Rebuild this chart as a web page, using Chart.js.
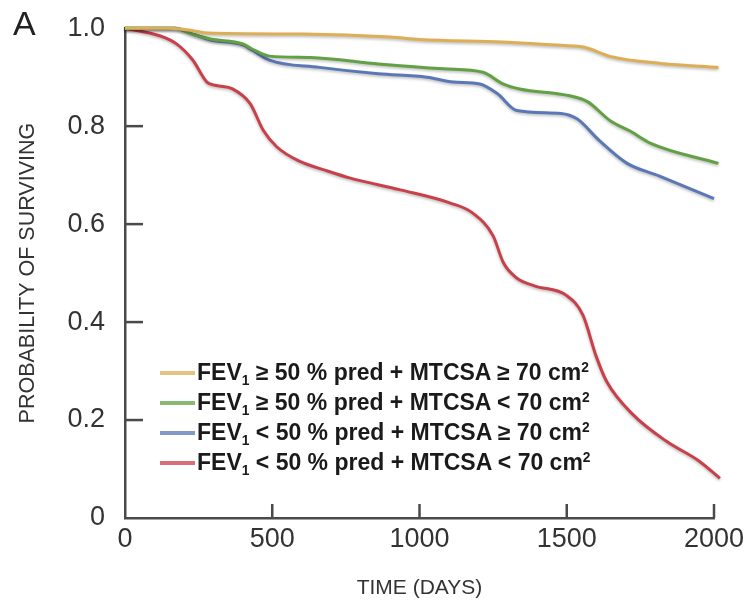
<!DOCTYPE html>
<html>
<head>
<meta charset="utf-8">
<script src="https://cdn.jsdelivr.net/npm/chart.js@4.4.1/dist/chart.umd.min.js"></script>
<style>
  body { margin: 0; background: #fff; }
  #wrap { position: relative; width: 746px; height: 602px; font-family: "Liberation Sans", Arial, sans-serif; }
  #panel { position: absolute; left: 13px; top: 4px; font-size: 34px; color: #222; }
  #legend { position: absolute; left: 160px; top: 358px; }
  .row { height: 30px; display: flex; align-items: center; font-weight: bold; font-size: 23px; color: #1a1a1a; white-space: nowrap; }
  .sw { width: 35px; height: 4px; margin-right: 2px; opacity: 0.75; }
  .row sub { font-size: 60%; vertical-align: -5px; }
  .row sup { font-size: 60%; vertical-align: 8px; }
</style>
</head>
<body>
<div id="wrap">
  <canvas id="chart"></canvas>
  <div id="panel">A</div>
  <div id="legend"></div>
</div>
<script>
// days / probability
const goldDays = [0, 150, 230, 280, 600, 900, 1000, 1280, 1480, 1560, 1650, 1820, 2015];
const goldSurv = [1.0, 1.0, 0.995, 0.99, 0.988, 0.982, 0.977, 0.972, 0.965, 0.961, 0.942, 0.928, 0.92];

const greenDays = [0, 170, 230, 290, 400, 430, 490, 630, 860, 1080, 1215, 1285, 1340, 1510, 1570, 1650, 1715, 1785, 2015];
const greenSurv = [1.0, 1.0, 0.988, 0.978, 0.968, 0.958, 0.943, 0.94, 0.927, 0.917, 0.91, 0.886, 0.876, 0.862, 0.85, 0.81, 0.79, 0.765, 0.724];

const blueDays = [0, 170, 230, 290, 400, 430, 490, 660, 860, 1025, 1115, 1205, 1265, 1330, 1480, 1535, 1610, 1705, 1815, 2000];
const blueSurv = [1.0, 1.0, 0.988, 0.976, 0.966, 0.956, 0.935, 0.92, 0.907, 0.9, 0.89, 0.886, 0.866, 0.832, 0.826, 0.815, 0.771, 0.724, 0.698, 0.652];

const redDays = [0, 120, 175, 230, 278, 310, 365, 425, 470, 515, 590, 690, 765, 935, 1105, 1180, 1250, 1285, 1330, 1390, 1500, 1555, 1600, 1636, 1725, 1840, 1950, 2020];
const redSurv = [1.0, 0.984, 0.968, 0.935, 0.89, 0.883, 0.876, 0.846, 0.791, 0.758, 0.729, 0.708, 0.694, 0.67, 0.643, 0.623, 0.576, 0.521, 0.49, 0.474, 0.454, 0.414, 0.33, 0.278, 0.211, 0.156, 0.116, 0.081];

const seriesLabels = [
  'FEV1 ≥ 50 % pred + MTCSA ≥ 70 cm2',
  'FEV1 ≥ 50 % pred + MTCSA < 70 cm2',
  'FEV1 < 50 % pred + MTCSA ≥ 70 cm2',
  'FEV1 < 50 % pred + MTCSA < 70 cm2'
];
const seriesColors = ['#dcae55', '#62a045', '#5a78b5', '#c8404a'];

const xTickValues = [0, 500, 1000, 1500, 2000];
const xTickLabels = ['0', '500', '1000', '1500', '2000'];
const yTickValues = [0, 0.2, 0.4, 0.6, 0.8, 1.0];
const yTickLabels = ['0', '0.2', '0.4', '0.6', '0.8', '1.0'];

function toPoints(days, surv) {
  return days.map((d, i) => ({ x: d, y: surv[i] }));
}

const allDays = [goldDays, greenDays, blueDays, redDays];
const allSurv = [goldSurv, greenSurv, blueSurv, redSurv];

const datasets = seriesLabels.map((lab, i) => ({
  label: lab,
  data: toPoints(allDays[i], allSurv[i]),
  borderColor: seriesColors[i],
  borderWidth: 3,
  pointRadius: 0,
  cubicInterpolationMode: 'monotone',
  clip: false
}));

const axisColor = '#4a4a4a';

// soft shadow under the curves
const lineShadow = {
  id: 'lineShadow',
  beforeDatasetDraw(chart) {
    const ctx = chart.ctx;
    ctx.save();
    ctx.shadowColor = 'rgba(0,0,0,0.28)';
    ctx.shadowBlur = 3;
    ctx.shadowOffsetY = 1.5;
  },
  afterDatasetDraw(chart) {
    chart.ctx.restore();
  }
};

// tick marks pointing into the plot
const innerTicks = {
  id: 'innerTicks',
  afterDraw(chart) {
    const ctx = chart.ctx;
    const area = chart.chartArea;
    const xs = chart.scales.x;
    const ys = chart.scales.y;
    ctx.save();
    ctx.fillStyle = axisColor;
    for (let i = 1; i < xTickValues.length; i++) {
      const px = xs.getPixelForValue(xTickValues[i]);
      ctx.fillRect(px - 1.25, area.bottom - 14, 2.5, 14);
    }
    for (let i = 1; i < yTickValues.length - 1; i++) {
      const py = ys.getPixelForValue(yTickValues[i]);
      ctx.fillRect(area.left, py - 1.25, 18, 2.5);
    }
    ctx.restore();
  }
};

new Chart(document.getElementById('chart'), {
  type: 'line',
  data: { datasets: datasets },
  plugins: [lineShadow, innerTicks],
  options: {
    responsive: true,
    maintainAspectRatio: false,
    animation: false,
    devicePixelRatio: 1,
    layout: { padding: { top: 23, right: 32, left: 0, bottom: 0 } },
    plugins: { legend: { display: false }, tooltip: { enabled: false } },
    scales: {
      x: {
        type: 'linear',
        min: 0,
        max: 2000,
        afterFit(scale) { scale.height = 84; },
        afterBuildTicks(scale) { scale.ticks = xTickValues.map(v => ({ value: v })); },
        grid: { display: false },
        border: { display: true, color: axisColor, width: 2.5 },
        ticks: {
          padding: -3,
          color: '#333',
          font: { family: 'Liberation Sans', size: 27 },
          maxRotation: 0,
          callback: (v, i) => xTickLabels[i]
        },
        title: {
          display: true,
          text: 'TIME (DAYS)',
          color: '#333',
          font: { family: 'Liberation Sans', size: 21 },
          padding: { top: 0, bottom: 1 }
        }
      },
      y: {
        min: 0,
        max: 1,
        afterFit(scale) { scale.width = 125; },
        afterBuildTicks(scale) { scale.ticks = yTickValues.map(v => ({ value: v })); },
        grid: { display: false },
        border: { display: true, color: axisColor, width: 2.5 },
        ticks: {
          padding: 12,
          color: '#333',
          font: { family: 'Liberation Sans', size: 27 },
          callback: (v, i) => yTickLabels[i]
        },
        title: {
          display: true,
          text: 'PROBABILITY OF SURVIVING',
          color: '#333',
          font: { family: 'Liberation Sans', size: 21.5 },
          padding: { top: 15, bottom: 0 }
        }
      }
    }
  }
});

// legend built from the same labels and colours
const legend = document.getElementById('legend');
seriesLabels.forEach((lab, i) => {
  const row = document.createElement('div');
  row.className = 'row';
  const sw = document.createElement('span');
  sw.className = 'sw';
  sw.style.background = seriesColors[i];
  const txt = document.createElement('span');
  txt.innerHTML = lab.replace('FEV1', 'FEV<sub>1</sub>').replace('cm2', 'cm<sup>2</sup>');
  row.appendChild(sw);
  row.appendChild(txt);
  legend.appendChild(row);
});
</script>
</body>
</html>
